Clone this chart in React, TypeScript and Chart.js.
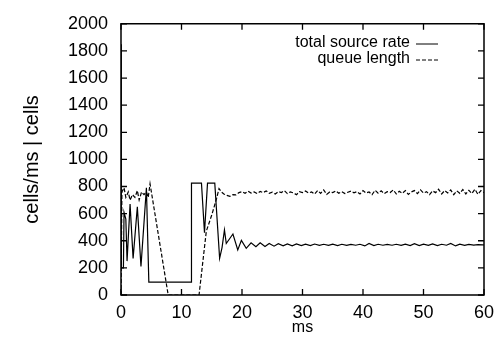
import React, { useEffect, useRef } from "react";
import { Chart, registerables } from "chart.js";

Chart.register(...registerables);

const xTickValues = [0, 10, 20, 30, 40, 50, 60];
const yTickValues = [0, 200, 400, 600, 800, 1000, 1200, 1400, 1600, 1800, 2000];
const xTitle = "ms";
const yTitle = "cells/ms | cells";
const legendLabels = ["total source rate", "queue length"];

const sourceTime = [
  0, 0.05, 0.4, 0.5, 0.8, 1.0, 1.5, 2.0, 2.7, 3.3, 4.2, 4.6, 11.6, 11.65, 13.3, 13.8, 14.3, 15.5,
  16.3, 16.7, 17.1, 17.4, 18.5, 19.3, 19.9, 20.7, 21.5,
  22.3, 23.0, 23.8, 24.5, 25.3, 26.0, 26.8, 27.5, 28.3, 29.0, 29.8, 30.5, 31.3, 32.0, 32.8, 33.5,
  34.3, 35.0, 35.8, 36.5, 37.3, 38.0, 38.8, 39.5, 40.3, 41.0, 41.8, 42.5, 43.3, 44.0, 44.8, 45.5,
  46.3, 47.0, 47.8, 48.5, 49.3, 50.0, 50.8, 51.5, 52.3, 53.0, 53.8, 54.5, 55.3, 56.0, 56.8, 57.5,
  58.3, 59.0, 59.8, 60.0,
];
const sourceRate = [
  1850, 200, 200, 610, 560, 250, 670, 270, 650, 210, 790, 95, 95, 825, 825, 460, 825, 825,
  270, 350, 480, 380, 450, 332, 403, 344, 385,
  356, 385, 358, 380, 360, 378, 362, 377, 363, 376, 364, 375, 365, 376, 366, 374,
  366, 375, 365, 374, 366, 373, 367, 374, 362, 380, 364, 374, 367, 373, 367, 374,
  366, 375, 365, 378, 364, 375, 366, 377, 364, 374, 367, 380, 362, 375, 366, 373,
  368, 372, 369, 370,
];

const queueTime = [
  0, 0.15, 0.5, 0.8, 1.2, 1.5, 1.9, 2.3, 2.7, 3.0, 3.4, 3.8, 4.2, 4.5, 4.8, 7.8, 12.9, 14.1,
  15.0, 15.8, 16.2, 16.6,
  17.0, 17.5, 18.0, 18.5, 19.0, 19.5, 20.0, 20.5, 21.0, 21.5, 22.0, 22.5, 23.0, 23.5, 24.0, 24.5,
  25.0, 25.5, 26.0, 26.5, 27.0, 27.5, 28.0, 28.5, 29.0, 29.5, 30.0, 30.5, 31.0, 31.5, 32.0, 32.5,
  33.0, 33.5, 34.0, 34.5, 35.0, 35.5, 36.0, 36.5, 37.0, 37.5, 38.0, 38.5, 39.0, 39.5, 40.0, 40.5,
  41.0, 41.5, 42.0, 42.5, 43.0, 43.5, 44.0, 44.5, 45.0, 45.5, 46.0, 46.5, 47.0, 47.5, 48.0, 48.5,
  49.0, 49.5, 50.0, 50.5, 51.0, 51.5, 52.0, 52.5, 53.0, 53.5, 54.0, 54.5, 55.0, 55.5, 56.0, 56.5,
  57.0, 57.5, 58.0, 58.5, 59.0, 59.5, 60.0,
];
const queueLength = [
  0, 760, 790, 720, 760, 700, 740, 720, 770, 700, 760, 740, 760, 720, 820, 0, 0, 470,
  590, 712, 785, 760,
  745, 735, 728, 740, 738, 755, 762, 750, 766, 752, 760, 748, 764, 755, 768, 750,
  758, 745, 762, 756, 770, 748, 760, 753, 740, 762, 755, 767, 752, 760, 744, 770,
  750, 775, 742, 760, 755, 768, 750, 762, 748, 758, 766, 754, 762, 745, 770, 752,
  760, 740, 772, 750, 768, 748, 762, 756, 775, 745, 765, 750, 770, 742, 760, 770,
  748, 775, 752, 762, 740, 768, 755, 780, 745, 770, 752, 775, 740, 768, 750, 778,
  745, 772, 748, 780, 742, 770, 755,
];

const FONT = "'Liberation Sans', Arial, Helvetica, sans-serif";

const framePlugin = {
  id: "frameTicks",
  afterDatasetsDraw(chart: any) {
    const { ctx, chartArea } = chart;
    const { left, right, top, bottom } = chartArea;
    const xs = chart.scales.x;
    const ys = chart.scales.y;
    const tick = 6;
    ctx.save();
    ctx.strokeStyle = "#000";
    ctx.lineWidth = 1.5;
    ctx.setLineDash([]);
    ctx.beginPath();
    ctx.rect(left, top, right - left, bottom - top);
    ctx.stroke();
    ctx.lineWidth = 1.3;
    ctx.beginPath();
    for (const v of xTickValues) {
      const px = xs.getPixelForValue(v);
      ctx.moveTo(px, bottom);
      ctx.lineTo(px, bottom - tick);
      ctx.moveTo(px, top);
      ctx.lineTo(px, top + tick);
    }
    for (const v of yTickValues) {
      const py = ys.getPixelForValue(v);
      ctx.moveTo(left, py);
      ctx.lineTo(left + tick, py);
      ctx.moveTo(right, py);
      ctx.lineTo(right - tick, py);
    }
    ctx.stroke();

    // legend
    ctx.font = `16px ${FONT}`;
    ctx.fillStyle = "#000";
    ctx.textAlign = "right";
    ctx.textBaseline = "middle";
    const textX = 410;
    const rows = [43, 59];
    legendLabels.forEach((label, i) => {
      ctx.fillText(label, textX, rows[i]);
      ctx.beginPath();
      ctx.lineWidth = 1;
      ctx.setLineDash(i === 0 ? [] : [4, 2]);
      ctx.moveTo(416, rows[i] + 1);
      ctx.lineTo(438, rows[i] + 1);
      ctx.stroke();
    });
    ctx.restore();
  },
};

export default function App() {
  const ref = useRef<HTMLCanvasElement | null>(null);
  useEffect(() => {
    document.body.style.margin = "0";
    const canvas = ref.current;
    if (!canvas) return;
    const chart = new Chart(canvas, {
      type: "line",
      data: {
        datasets: [
          {
            label: legendLabels[0],
            data: sourceTime.map((t, i) => ({ x: t, y: sourceRate[i] })),
            borderColor: "#000",
            borderWidth: 1.2,
            pointRadius: 0,
            tension: 0,
            fill: false,
          },
          {
            label: legendLabels[1],
            data: queueTime.map((t, i) => ({ x: t, y: queueLength[i] })),
            borderColor: "#000",
            borderWidth: 1.2,
            borderDash: [4, 2],
            pointRadius: 0,
            tension: 0,
            fill: false,
          },
        ],
      },
      options: {
        responsive: false,
        animation: false,
        layout: { padding: { left: 0, top: 14, right: 19, bottom: 0 } },
        plugins: { legend: { display: false }, tooltip: { enabled: false } },
        scales: {
          x: {
            type: "linear",
            min: 0,
            max: 60,
            afterFit: (s: any) => {
              s.height = 50;
            },
            afterBuildTicks: (s: any) => {
              s.ticks = xTickValues.map((v) => ({ value: v }));
            },
            grid: { display: false, drawTicks: false },
            border: { display: false },
            ticks: {
              color: "#000",
              font: { family: FONT, size: 18 },
              padding: 7,
              maxRotation: 0,
              callback: (v: any) => String(v),
            },
            title: {
              display: true,
              text: xTitle,
              color: "#000",
              font: { family: FONT, size: 16 },
              padding: { top: 0, bottom: 8 },
            },
          },
          y: {
            type: "linear",
            min: 0,
            max: 2000,
            afterFit: (s: any) => {
              s.width = 121;
            },
            afterBuildTicks: (s: any) => {
              s.ticks = yTickValues.map((v) => ({ value: v }));
            },
            grid: { display: false, drawTicks: false },
            border: { display: false },
            ticks: {
              color: "#000",
              font: { family: FONT, size: 18 },
              padding: 13,
              callback: (v: any) => String(v),
            },
            title: {
              display: true,
              text: yTitle,
              color: "#000",
              font: { family: FONT, size: 20 },
              padding: { top: 20, bottom: 0 },
            },
          },
        },
      },
      plugins: [framePlugin],
    });
    return () => chart.destroy();
  }, []);
  return <canvas ref={ref} width={503} height={345} style={{ display: "block" }} />;
}
